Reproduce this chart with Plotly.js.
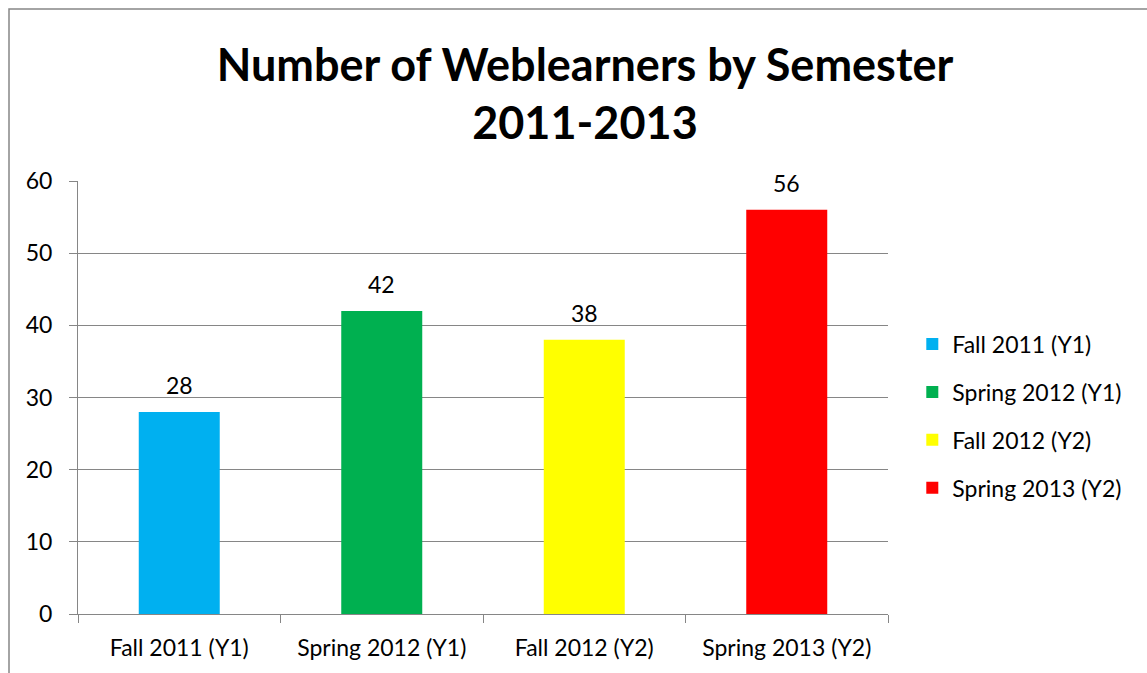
<!DOCTYPE html>
<html><head><meta charset="utf-8">
<script src="https://cdn.plot.ly/plotly-3.0.1.min.js"></script>
<style>html,body{margin:0;padding:0;background:#fff;}#chart{width:1147px;height:673px;}</style>
</head><body><div id="chart"></div>
<script>
const categories = ["Fall 2011 (Y1)", "Spring 2012 (Y1)", "Fall 2012 (Y2)", "Spring 2013 (Y2)"];
const values = [28, 42, 38, 56];
const colors = ["#00B0F0", "#00B050", "#FFFF00", "#FF0000"];
const FONT = "Lato, 'Open Sans', sans-serif";

const traces = categories.map((c, i) => ({
  type: "bar",
  x: [c],
  y: [values[i]],
  name: c,
  legendgroup: "g" + i,
  width: 0.4,
  marker: {color: colors[i]},
  hoverinfo: "x+y"
}));

const annotations = categories.map((c, i) => ({
  x: c, y: values[i], xref: "x", yref: "y",
  text: String(values[i]), showarrow: false,
  yanchor: "bottom", yshift: 11,
  font: {family: FONT, size: 23, color: "#000"}
}));

const layout = {
  width: 1147, height: 673,
  margin: {l: 78, r: 259, t: 181, b: 59},
  paper_bgcolor: "#fff", plot_bgcolor: "#fff",
  barmode: "overlay",
  font: {family: FONT, size: 23, color: "#000"},
  title: {
    text: "Number of Weblearners by Semester<br>2011-2013",
    font: {family: FONT, size: 45, color: "#000", weight: "bold"},
    xref: "container", x: 0.51, xanchor: "center",
    yref: "container", y: 0.88, yanchor: "middle"
  },
  xaxis: {
    type: "category",
    showline: true, linecolor: "#868686", linewidth: 1,
    ticks: "outside", tickson: "boundaries", ticklen: 8, tickcolor: "#868686",
    showgrid: false, ticklabelstandoff: 13,
    tickfont: {family: FONT, size: 23, color: "#000"}
  },
  yaxis: {
    range: [0, 60], dtick: 10, tick0: 0,
    showline: true, linecolor: "#868686", linewidth: 1,
    ticks: "outside", ticklen: 8, tickcolor: "#868686",
    showgrid: true, gridcolor: "#868686", gridwidth: 1,
    zeroline: false, ticklabelstandoff: 12,
    tickfont: {family: FONT, size: 23, color: "#000"}
  },
  legend: {
    x: 1.03, xanchor: "left", y: 0.457, yanchor: "middle",
    font: {family: FONT, size: 23, color: "#000"},
    tracegroupgap: 15, itemwidth: 30,
    bgcolor: "rgba(0,0,0,0)"
  },
  showlegend: true,
  annotations: annotations,
  shapes: [{
    type: "rect", xref: "paper", yref: "paper",
    x0: -69/810, x1: 1.5, y0: -0.5, y1: 1 + 172/433,
    line: {color: "#868686", width: 1.5}, fillcolor: "rgba(0,0,0,0)", layer: "below"
  }]
};

Plotly.newPlot("chart", traces, layout, {displayModeBar: false, staticPlot: true});
</script></body></html>
